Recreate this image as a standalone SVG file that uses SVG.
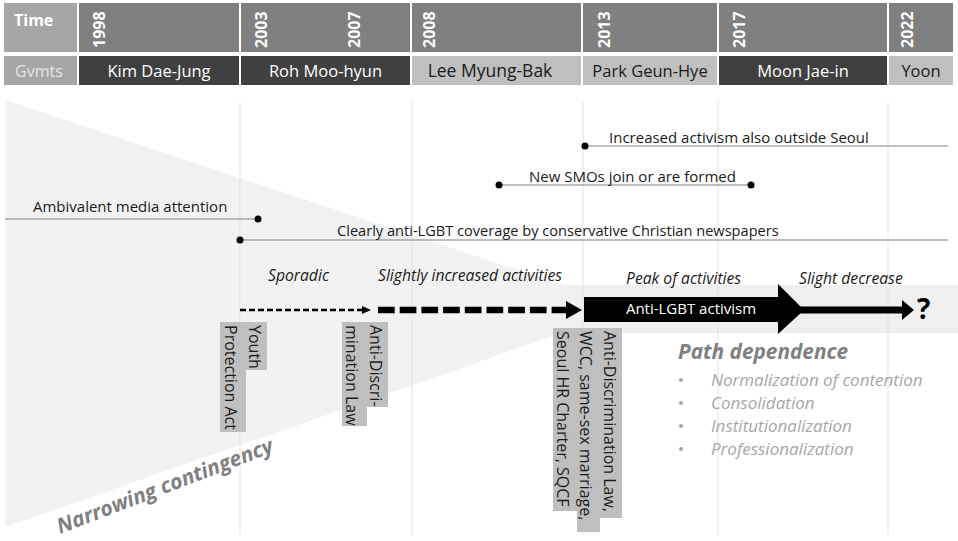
<svg xmlns="http://www.w3.org/2000/svg" width="958" height="541" viewBox="0 0 958 541">
<style>
  text { font-family: "Open Sans", "Liberation Sans", sans-serif; }
  .yr { font-size: 16px; font-weight: bold; fill: #ffffff; }
  .gv { font-size: 16.5px; text-anchor: middle; }
  .ev { font-size: 15px; fill: #1a1a1a; }
  .it { font-size: 15.7px; font-style: italic; fill: #1a1a1a; }
  .vl { font-size: 16px; fill: #1a1a1a; }
  .vbox { fill: #bfbfbf; }
  .evline { stroke: #7f7f7f; stroke-width: 1; fill: none; }
  .grid { stroke: #e3e3e3; stroke-width: 1; }
  .pd { font-size: 17px; font-style: italic; fill: #a6a6a6; }
  .dark { fill: #404040; }
  .light { fill: #bfbfbf; }
</style>

<!-- background shapes -->
<polygon id="contingency-wedge" points="5,100 633,308 5,527" fill="#f2f2f2"/>
<rect id="activism-band" x="560" y="285" width="398" height="48" fill="#efefef"/>

<g id="gridlines">
  <line class="grid" x1="240" y1="102" x2="240" y2="535"/>
  <line class="grid" x1="412" y1="102" x2="412" y2="535"/>
  <line class="grid" x1="583" y1="102" x2="583" y2="535"/>
  <line class="grid" x1="718" y1="102" x2="718" y2="535"/>
  <line class="grid" x1="888" y1="102" x2="888" y2="535"/>
</g>

<!-- header: time row -->
<g id="time-row">
  <rect x="4" y="3" width="73" height="49" fill="#a6a6a6"/>
  <text x="14" y="26" font-size="16" font-weight="bold" fill="#ffffff">Time</text>
  <rect x="79" y="3" width="160" height="49" fill="#808080"/>
  <rect x="241" y="3" width="169" height="49" fill="#808080"/>
  <rect x="412" y="3" width="169" height="49" fill="#808080"/>
  <rect x="583" y="3" width="134" height="49" fill="#808080"/>
  <rect x="719" y="3" width="168" height="49" fill="#808080"/>
  <rect x="889" y="3" width="64" height="49" fill="#808080"/>
  <text class="yr" transform="translate(105,48) rotate(-90)">1998</text>
  <text class="yr" transform="translate(267,48) rotate(-90)">2003</text>
  <text class="yr" transform="translate(360,48) rotate(-90)">2007</text>
  <text class="yr" transform="translate(435,48) rotate(-90)">2008</text>
  <text class="yr" transform="translate(610,48) rotate(-90)">2013</text>
  <text class="yr" transform="translate(745,48) rotate(-90)">2017</text>
  <text class="yr" transform="translate(913,48) rotate(-90)">2022</text>
</g>

<!-- header: governments row -->
<g id="gvmts-row">
  <rect x="4" y="56" width="73" height="29" fill="#a6a6a6"/>
  <text x="15" y="77" font-size="16" fill="#e6e6e6">Gvmts</text>
  <g id="gov-kim"><rect class="dark" x="79" y="56" width="160" height="29"/><text class="gv" x="159" y="77" fill="#ffffff">Kim Dae-Jung</text></g>
  <g id="gov-roh"><rect class="dark" x="241" y="56" width="169" height="29"/><text class="gv" x="325.5" y="77" fill="#ffffff">Roh Moo-hyun</text></g>
  <g id="gov-lee"><rect class="light" x="412" y="56" width="169" height="29"/><text class="gv" x="490" y="77" fill="#1a1a1a" style="font-size:17.5px">Lee Myung-Bak</text></g>
  <g id="gov-park"><rect class="light" x="583" y="56" width="134" height="29"/><text class="gv" x="650" y="77" fill="#1a1a1a">Park Geun-Hye</text></g>
  <g id="gov-moon"><rect class="dark" x="719" y="56" width="168" height="29"/><text class="gv" x="803" y="77" fill="#ffffff">Moon Jae-in</text></g>
  <g id="gov-yoon"><rect class="light" x="889" y="56" width="64" height="29"/><text class="gv" x="921" y="77" fill="#1a1a1a">Yoon</text></g>
</g>

<!-- event lines and arrows -->
<g id="connectors">
  <g id="ev-outside-seoul">
    <line class="evline" x1="585" y1="146" x2="948" y2="146"/>
    <circle cx="585" cy="146" r="3.5" fill="#000"/>
  </g>
  <g id="ev-new-smos">
    <line class="evline" x1="499" y1="185" x2="751" y2="185"/>
    <circle cx="499" cy="185" r="3.5" fill="#000"/>
    <circle cx="751" cy="185" r="3.5" fill="#000"/>
  </g>
  <g id="ev-ambivalent">
    <line class="evline" x1="5" y1="219" x2="258" y2="219"/>
    <circle cx="258" cy="219" r="3.5" fill="#000"/>
  </g>
  <g id="ev-anti-coverage">
    <line class="evline" x1="240" y1="240" x2="948" y2="240"/>
    <circle cx="240" cy="240" r="3.5" fill="#000"/>
  </g>
  <g id="arrow-sporadic">
    <line x1="240" y1="310" x2="364" y2="310" stroke="#000" stroke-width="2.5" stroke-dasharray="6 3"/>
    <polygon points="362,306 371,310 362,314" fill="#000"/>
  </g>
  <g id="arrow-increased">
    <line x1="378" y1="310" x2="568" y2="310" stroke="#000" stroke-width="6.5" stroke-dasharray="16.7 5"/>
    <polygon points="566,301 582,310 566,319" fill="#000"/>
  </g>
  <g id="arrow-activism">
    <polygon points="584,297 778,297 778,284 803,309 803,311 778,334 778,322 584,322" fill="#000"/>
    <rect x="795" y="306.5" width="109" height="7" fill="#000"/>
    <polygon points="902,300 914,310 902,320" fill="#000"/>
  </g>
</g>

<g id="event-labels">
  <text class="ev" x="609" y="143">Increased activism also outside Seoul</text>
  <text class="ev" x="529" y="182">New SMOs join or are formed</text>
  <text class="ev" x="33" y="212">Ambivalent media attention</text>
  <text class="ev" x="337" y="236" style="font-size:14.6px">Clearly anti-LGBT coverage by conservative Christian newspapers</text>
</g>

<g id="phase-labels">
  <text class="it" x="268" y="281">Sporadic</text>
  <text class="it" x="378" y="281">Slightly increased activities</text>
  <text class="it" x="626" y="284">Peak of activities</text>
  <text class="it" x="799" y="284">Slight decrease</text>
  <text x="691" y="314" font-size="15" fill="#ffffff" text-anchor="middle">Anti-LGBT activism</text>
  <text x="917" y="319" font-size="28" font-weight="bold" fill="#000">?</text>
</g>

<!-- vertical law labels -->
<g id="law-youth">
  <rect class="vbox" x="246" y="322" width="21" height="48"/>
  <rect class="vbox" x="220" y="322" width="26" height="110"/>
  <text class="vl" transform="translate(249,325) rotate(90)">Youth</text>
  <text class="vl" transform="translate(225,325) rotate(90)">Protection Act</text>
</g>
<g id="law-antidiscri-2007">
  <rect class="vbox" x="367" y="322" width="21" height="85"/>
  <rect class="vbox" x="342" y="322" width="25" height="104"/>
  <text class="vl" transform="translate(370,325) rotate(90)">Anti-Discri-</text>
  <text class="vl" transform="translate(346,325) rotate(90)">mination Law</text>
</g>
<g id="law-2013">
  <rect class="vbox" x="600" y="328" width="22" height="190"/>
  <rect class="vbox" x="577" y="328" width="23" height="204"/>
  <rect class="vbox" x="553" y="328" width="24" height="183"/>
  <text class="vl" transform="translate(604,331) rotate(90)">Anti-Discrimination Law,</text>
  <text class="vl" transform="translate(580,331) rotate(90)">WCC, same-sex marriage,</text>
  <text class="vl" transform="translate(557,331) rotate(90)">Seoul HR Charter, SQCF</text>
</g>

<g id="path-dependence">
  <text x="678" y="359" font-size="20.8" font-weight="bold" font-style="italic" fill="#808080">Path dependence</text>
  <g fill="#a6a6a6">
    <circle cx="681" cy="380" r="2"/>
    <circle cx="681" cy="403" r="2"/>
    <circle cx="681" cy="426" r="2"/>
    <circle cx="681" cy="449" r="2"/>
  </g>
  <text class="pd" x="711" y="386">Normalization of contention</text>
  <text class="pd" x="711" y="409">Consolidation</text>
  <text class="pd" x="711" y="432">Institutionalization</text>
  <text class="pd" x="711" y="455">Professionalization</text>
</g>

<text id="narrowing" transform="translate(60,534) rotate(-21)" font-size="21" font-weight="bold" font-style="italic" fill="#808080">Narrowing contingency</text>
</svg>
